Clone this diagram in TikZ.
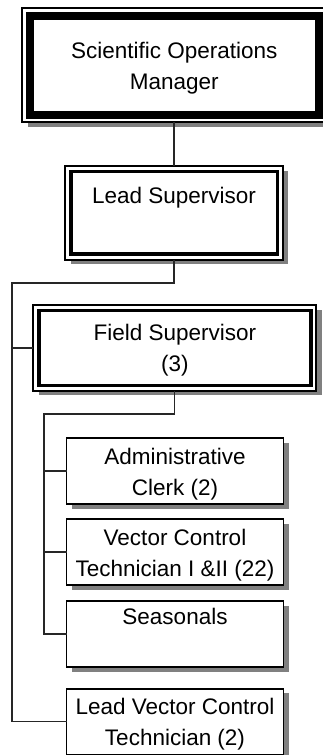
\documentclass[tikz,border=0pt]{standalone}
\usepackage{fontspec}
\setmainfont{Liberation Sans}
\usetikzlibrary{shadows}
\tikzset{
  box/.style={draw, line width=1.5pt, fill=white, inner sep=0pt, outer sep=0pt,
    align=center, minimum width=217pt, minimum height=66pt,
    drop shadow={shadow xshift=5.5pt, shadow yshift=-4.5pt, fill=black!50, opacity=1}},
  frame/.style={box, line width=2pt},
  link/.style={line width=1.3pt, black!85}
}
\begin{document}
\begin{tikzpicture}[x=1pt, y=-1pt, font=\fontsize{22.5}{31}\selectfont]%Orgchart
	\useasboundingbox (0,0) rectangle (322,755);
	% top levels
	\node[frame, minimum width=304.5pt, minimum height=114pt] (som) at (174.25,65) {\strut Scientific Operations\\Manager};
	\node[frame, minimum width=217.5pt, minimum height=93.5pt] (lead) at (174,212.75) {\strut Lead Supervisor\\\strut};
	\node[frame, minimum width=283pt, minimum height=85.7pt] (fs) at (174.8,347.9) {\strut Field Supervisor\\(3)};
	\draw[line width=8pt] ([shift={(7.5,7.5)}]som.north west) rectangle ([shift={(-7.5,-7.5)}]som.south east);
	\foreach \n in {lead,fs}
	\draw[line width=3.5pt] ([shift={(5.5,5.5)}]\n.north west) rectangle ([shift={(-5.5,-5.5)}]\n.south east);
	% staff
	\node[box] (clerk) at (175,471) {\strut Administrative\\Clerk (2)};
	\node[box] (vct) at (175,552) {\strut Vector Control\\Technician I \&II (22)};
	\node[box] (seas) at (175,634) {\strut Seasonals\\\strut};
	\node[box, minimum height=65.5pt] (lvct) at (175,721.7) {\strut Lead Vector Control\\Technician (2)};
	% connectors
	\coordinate (r1) at (12,283);
	\coordinate (r2) at (44,414);
	\draw[link] (lead.north |- som.south) -- (lead.north);
	\draw[link] (lead.south) |- (r1) |- (lvct.west);
	\draw[link] (r1 |- fs.west) -- (fs.west);
	\draw[link] (fs.south) |- (r2) |- (seas.west);
	\foreach \n in {clerk,vct}
	\draw[link] (r2 |- \n.west) -- (\n.west);
\end{tikzpicture}
\end{document}
